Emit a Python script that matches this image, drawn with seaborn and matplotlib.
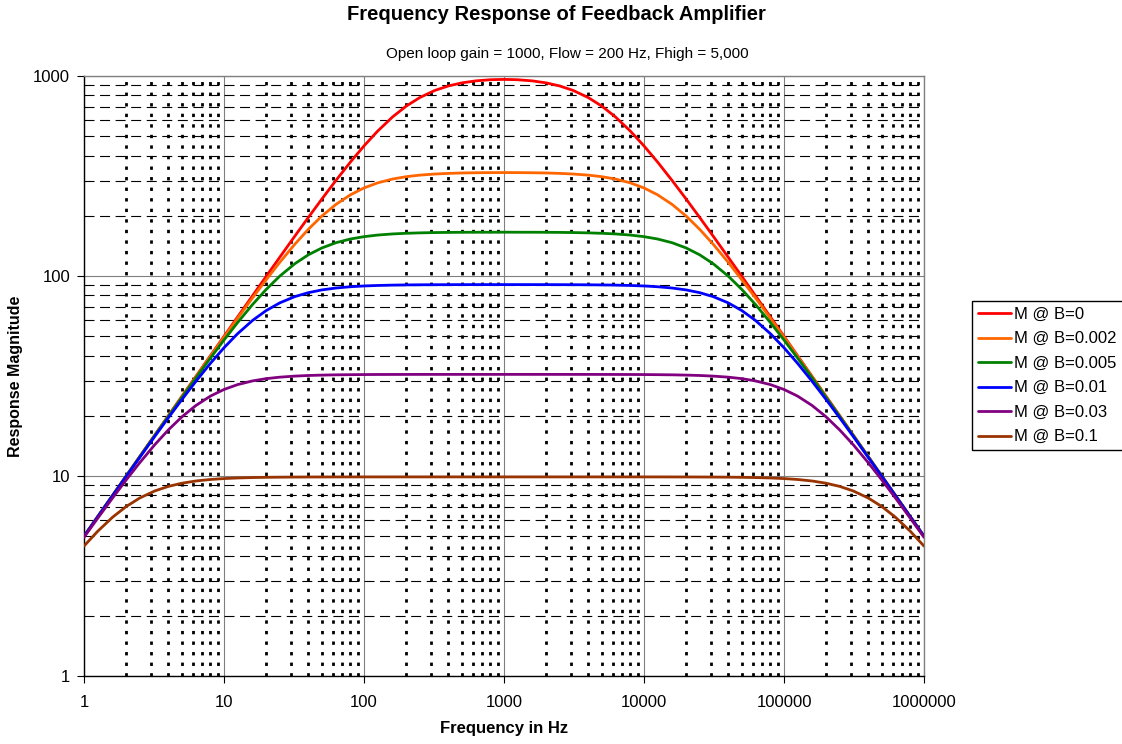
import numpy as np
import pandas as pd
import seaborn as sns
import matplotlib.pyplot as plt
from matplotlib.ticker import LogLocator

sns.set_style('white')
plt.rcParams['font.family'] = ['Liberation Sans', 'DejaVu Sans']
plt.rcParams['text.color'] = 'black'
plt.rcParams['xtick.color'] = 'black'
plt.rcParams['ytick.color'] = 'black'
plt.rcParams['legend.labelcolor'] = 'black'

# frequency points (Hz)
freq = [1, 1.25, 1.6, 2, 2.5, 3.2, 4, 5, 6.3, 8, 10, 12.5, 16, 20, 25, 32, 40, 50, 63, 80,
        100, 125, 160, 200, 250, 320, 400, 500, 630, 800, 1000,
        1250, 1587, 2000, 2500, 3125, 4000, 5000, 6250, 8000, 10000, 12500, 15873, 20000,
        25000, 31250, 40000, 50000, 62500, 80000, 100000, 125000, 158730, 200000, 250000,
        312500, 400000, 500000, 625000, 800000, 1000000]

# response magnitude, one list per feedback factor
m_b0 = [5.000, 6.250, 8.000, 9.999, 12.50, 16.00, 20.00, 24.99, 31.48, 39.97, 49.94, 62.38,
        79.74, 99.50, 124.0, 158.0, 196.1, 242.5, 300.4, 371.4, 447.1, 529.8, 624.4, 706.5,
        779.9, 846.3, 891.6, 923.9, 945.6, 958.0, 961.5,
        958.0, 945.6, 923.9, 891.6, 846.3, 779.9, 706.5, 624.4, 529.8, 447.1, 371.4, 300.4,
        242.5, 196.1, 158.0, 124.0, 99.50, 79.74, 62.38, 49.94, 39.97, 31.48, 24.99, 20.00,
        16.00, 12.50, 9.999, 8.000, 6.250, 5.000]
m_b0002 = [5.000, 6.249, 7.998, 9.995, 12.49, 15.98, 19.96, 24.93, 31.36, 39.71, 49.44, 61.41,
           77.75, 95.71, 116.9, 144.0, 171.1, 199.4, 228.0, 254.7, 275.6, 292.1, 305.4, 313.7,
           319.4, 323.5, 325.9, 327.4, 328.3, 328.8, 329.0,
           328.8, 328.3, 327.4, 325.9, 323.5, 319.4, 313.7, 305.4, 292.1, 275.6, 254.7, 228.0,
           199.4, 171.1, 144.0, 116.9, 95.71, 77.75, 61.41, 49.44, 39.71, 31.36, 24.93, 19.96,
           15.98, 12.49, 9.995, 7.998, 6.249, 5.000]
m_b0005 = [4.998, 6.246, 7.991, 9.982, 12.47, 15.93, 19.86, 24.72, 30.95, 38.88, 47.87, 58.48,
           72.05, 85.62, 99.80, 115.1, 127.6, 138.1, 146.7, 153.1, 157.3, 160.2, 162.3, 163.5,
           164.3, 164.9, 165.2, 165.4, 165.5, 165.5, 165.6,
           165.5, 165.5, 165.4, 165.2, 164.9, 164.3, 163.5, 162.3, 160.2, 157.3, 153.1, 146.7,
           138.1, 127.6, 115.1, 99.80, 85.62, 72.05, 58.48, 47.87, 38.88, 30.95, 24.72, 19.86,
           15.93, 12.47, 9.982, 7.991, 6.246, 4.998]
m_b001 = [4.992, 6.235, 7.969, 9.940, 12.38, 15.76, 19.53, 24.10, 29.75, 36.59, 43.78, 51.45,
          59.97, 67.15, 73.36, 78.84, 82.53, 85.19, 87.08, 88.37, 89.16, 89.67, 90.03, 90.24,
          90.37, 90.46, 90.51, 90.55, 90.57, 90.58, 90.58,
          90.58, 90.57, 90.55, 90.51, 90.46, 90.37, 90.24, 90.03, 89.67, 89.16, 88.37, 87.08,
          85.19, 82.53, 78.84, 73.36, 67.15, 59.97, 51.45, 43.78, 36.59, 29.75, 24.10, 19.53,
          15.76, 12.38, 9.940, 7.969, 6.235, 4.992]
m_b003 = [4.941, 6.136, 7.764, 9.551, 11.65, 14.33, 16.99, 19.75, 22.52, 25.09, 27.08, 28.64,
          29.89, 30.67, 31.20, 31.58, 31.81, 31.95, 32.05, 32.11, 32.15, 32.18, 32.19, 32.20,
          32.21, 32.21, 32.21, 32.22, 32.22, 32.22, 32.22,
          32.22, 32.22, 32.22, 32.21, 32.21, 32.21, 32.20, 32.19, 32.18, 32.15, 32.11, 32.05,
          31.95, 31.81, 31.58, 31.20, 30.67, 29.89, 28.64, 27.08, 25.09, 22.52, 19.75, 16.99,
          14.33, 11.65, 9.551, 7.764, 6.136, 4.941]
m_b01 = [4.463, 5.285, 6.222, 7.034, 7.759, 8.417, 8.870, 9.202, 9.442, 9.607, 9.709, 9.775,
         9.822, 9.849, 9.866, 9.878, 9.885, 9.889, 9.892, 9.894, 9.895, 9.896, 9.896, 9.897,
         9.897, 9.897, 9.897, 9.897, 9.897, 9.897, 9.897,
         9.897, 9.897, 9.897, 9.897, 9.897, 9.897, 9.897, 9.896, 9.896, 9.895, 9.894, 9.892,
         9.889, 9.885, 9.878, 9.866, 9.849, 9.822, 9.775, 9.709, 9.607, 9.442, 9.202, 8.870,
         8.417, 7.759, 7.034, 6.222, 5.285, 4.463]

series = [m_b0, m_b0002, m_b0005, m_b001, m_b003, m_b01]
labels = ['M @ B=0', 'M @ B=0.002', 'M @ B=0.005', 'M @ B=0.01', 'M @ B=0.03', 'M @ B=0.1']
colors = ['#FF0000', '#FF6600', '#008000', '#0000FF', '#800080', '#993300']

x_ticks = [1, 10, 100, 1000, 10000, 100000, 1000000]
x_tick_labels = ['1', '10', '100', '1000', '10000', '100000', '1000000']
y_ticks = [1, 10, 100, 1000]
y_tick_labels = ['1', '10', '100', '1000']

rows = []
for lab, vals in zip(labels, series):
    for f, v in zip(freq, vals):
        rows.append((f, v, lab))
df = pd.DataFrame(rows, columns=['freq', 'mag', 'curve'])

fig = plt.figure(figsize=(11.22, 7.44), dpi=100)
ax = fig.add_axes([84 / 1122, 68 / 744, 840 / 1122, 600 / 744])

sns.lineplot(data=df, x='freq', y='mag', hue='curve', hue_order=labels, palette=colors,
             linewidth=2, errorbar=None, ax=ax, zorder=3)

ax.set_xscale('log')
ax.set_yscale('log')
ax.set_xlim(1, 1e6)
ax.set_ylim(1, 1000)

# grid: gray solid decades, heavy dotted minor x, thin dashed minor y
ax.xaxis.set_minor_locator(LogLocator(base=10, subs=np.arange(2, 10), numticks=20))
ax.yaxis.set_minor_locator(LogLocator(base=10, subs=np.arange(2, 10), numticks=20))
ax.grid(which='major', axis='both', color='#808080', lw=0.8, ls='-')
ax.grid(which='minor', axis='x', color='black', lw=2.0, ls=(0, (1.2, 2.6)))
ax.grid(which='minor', axis='y', color='black', lw=0.8, ls=(0, (9, 5)))
ax.set_axisbelow(True)

ax.set_xticks(x_ticks, x_tick_labels)
ax.set_yticks(y_ticks, y_tick_labels)
ax.tick_params(which='minor', length=0)
ax.tick_params(which='major', bottom=True, left=True, direction='out', length=5,
               width=0.8, color='black', labelcolor='black', labelsize=12)
ax.tick_params(axis='x', pad=9)
ax.tick_params(axis='y', pad=5)

for side in ['left', 'bottom']:
    ax.spines[side].set_color('black')
    ax.spines[side].set_linewidth(1)
for side in ['top', 'right']:
    ax.spines[side].set_color('#808080')
    ax.spines[side].set_linewidth(1)

ax.set_xlabel('')
ax.set_ylabel('')

handles, labs = ax.get_legend_handles_labels()
ax.get_legend().remove()
leg = fig.legend(handles, labs, loc='upper left', bbox_to_anchor=(972 / 1122, 1 - 301 / 744),
                 borderaxespad=0, frameon=True, fancybox=False, edgecolor='black',
                 framealpha=1, fontsize=12, handlelength=2.0, handletextpad=0.18,
                 labelspacing=0.57, borderpad=0.35)
leg.get_frame().set_linewidth(1)

fig.text(556 / 1122, 1 - 15 / 744, 'Frequency Response of Feedback Amplifier',
         ha='center', va='center', fontsize=14.5, fontweight='bold', color='black')
fig.text(567 / 1122, 1 - 54 / 744, 'Open loop gain = 1000, Flow = 200 Hz, Fhigh = 5,000',
         ha='center', va='center', fontsize=11, color='black')
fig.text(504 / 1122, 1 - 728 / 744, 'Frequency in Hz', ha='center', va='center',
         fontsize=12, fontweight='bold', color='black')
fig.text(16 / 1122, 1 - 376 / 744, 'Response Magnitude', ha='center', va='center',
         rotation=90, fontsize=11.5, fontweight='bold', color='black')

plt.savefig('out.png', dpi=100)
